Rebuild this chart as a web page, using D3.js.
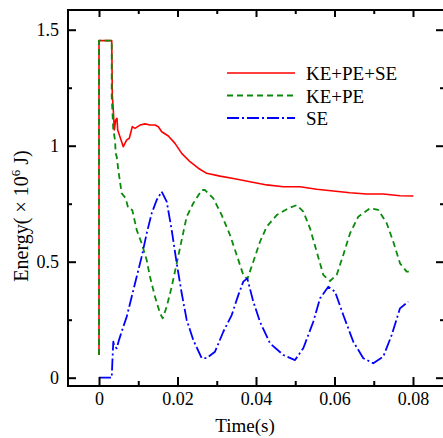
<!DOCTYPE html>
<html>
<head>
<meta charset="utf-8">
<script src="https://cdn.jsdelivr.net/npm/d3@7"></script>
<style>
  body { margin: 0; background: #fff; }
  text { font-family: "Liberation Serif", "DejaVu Serif", serif; fill: #000; }
</style>
</head>
<body>
<div id="chart"></div>
<script>
// KE+PE+SE (total energy)
var totalTime = [0, 0, 0.00324, 0.00339, 0.00364, 0.0039, 0.00425, 0.00459, 0.00476, 0.00619, 0.00706,
  0.00772, 0.00848, 0.00917, 0.01045, 0.01172, 0.01299, 0.01427, 0.01511, 0.01598, 0.01766, 0.01936,
  0.02107, 0.02318, 0.0253, 0.02744, 0.03083, 0.03422, 0.03847, 0.04273, 0.04696, 0.05121, 0.05547,
  0.05969, 0.06395, 0.0682, 0.07243, 0.07669, 0.08008];
var totalEnergy = [0.098, 1.453, 1.453, 1.219, 1.154, 1.068, 1.111, 1.118, 1.068, 0.996, 1.025,
  1.032, 1.082, 1.075, 1.089, 1.094, 1.089, 1.089, 1.082, 1.06, 1.042, 1.01,
  0.967, 0.931, 0.903, 0.881, 0.869, 0.859, 0.845, 0.831, 0.823, 0.823, 0.812,
  0.805, 0.797, 0.792, 0.792, 0.784, 0.783];

// KE+PE
var kpTime = [0, 0, 0.00324, 0.00324, 0.00364, 0.00408, 0.00425, 0.00451, 0.00492, 0.00578, 0.0068,
  0.00746, 0.00848, 0.0096, 0.01088, 0.01215, 0.01299, 0.01427, 0.01554, 0.01623, 0.01725, 0.01852,
  0.0198, 0.02107, 0.02234, 0.02403, 0.02617, 0.027, 0.02912, 0.03126, 0.03338, 0.03508, 0.03676,
  0.03778, 0.03931, 0.04102, 0.04273, 0.04527, 0.04823, 0.05037, 0.05205, 0.05376, 0.05547, 0.05715,
  0.05885, 0.06056, 0.06224, 0.06395, 0.06606, 0.06904, 0.07116, 0.0733, 0.07498, 0.07669, 0.07839,
  0.07992];
var kpEnergy = [0.098, 1.453, 1.453, 1.211, 1.068, 1.025, 0.967, 0.953, 0.895, 0.795, 0.773,
  0.73, 0.723, 0.637, 0.579, 0.507, 0.435, 0.349, 0.278, 0.256, 0.306, 0.392,
  0.493, 0.594, 0.694, 0.752, 0.809, 0.809, 0.773, 0.701, 0.615, 0.529, 0.443,
  0.425, 0.5, 0.586, 0.651, 0.701, 0.73, 0.744, 0.716, 0.644, 0.543, 0.443,
  0.417, 0.443, 0.529, 0.622, 0.694, 0.73, 0.723, 0.666, 0.586, 0.493, 0.457,
  0.457];

// SE
var seTime = [0, 0.00324, 0.00339, 0.00364, 0.0039, 0.00451, 0.0051, 0.00619, 0.00706, 0.00833,
  0.0096, 0.01088, 0.01215, 0.01343, 0.0147, 0.01597, 0.01725, 0.01852, 0.0198, 0.02107, 0.02234,
  0.02403, 0.02617, 0.02744, 0.02955, 0.03167, 0.03381, 0.03549, 0.03676, 0.03778, 0.03931, 0.04102,
  0.04357, 0.04696, 0.04994, 0.05205, 0.0546, 0.05631, 0.05842, 0.06013, 0.06224, 0.06479, 0.06734,
  0.06989, 0.07243, 0.07457, 0.07669, 0.0788];
var seEnergy = [0, 0, 0.062, 0.155, 0.134, 0.127, 0.163, 0.22, 0.263, 0.349,
  0.435, 0.522, 0.622, 0.709, 0.766, 0.802, 0.759, 0.637, 0.493, 0.364, 0.249,
  0.162, 0.084, 0.084, 0.112, 0.198, 0.27, 0.356, 0.414, 0.428, 0.328, 0.241,
  0.148, 0.098, 0.076, 0.127, 0.241, 0.342, 0.392, 0.371, 0.27, 0.155, 0.084,
  0.062, 0.091, 0.184, 0.299, 0.328];

var legendLabels = ["KE+PE+SE", "KE+PE", "SE"];
var xMajorTicks = [0, 0.02, 0.04, 0.06, 0.08];
var xMinorTicks = [0.01, 0.03, 0.05, 0.07];
var yMajorTicks = [0, 0.5, 1, 1.5];
var yMinorTicks = [0.25, 0.75, 1.25];

function zipSeries(ts, vs) {
  return ts.map((t, i) => ({ t: t, v: vs[i] }));
}

const width = 443;
const height = 438;
const margin = { top: 10, right: -1, bottom: 52, left: 68 };

const x = d3
  .scaleLinear()
  .domain([-0.0079, 0.0879])
  .range([margin.left, width - margin.right]);

const y = d3
  .scaleLinear()
  .domain([-0.0358, 1.585])
  .range([height - margin.bottom, margin.top]);

const svg = d3
  .select("div#chart")
  .append("svg")
  .attr("width", width)
  .attr("height", height);

const line = d3
  .line()
  .x((d) => x(d.t))
  .y((d) => y(d.v));

const series = [
  { data: zipSeries(totalTime, totalEnergy), color: "#ff0000", dash: null, w: 1.6 },
  { data: zipSeries(kpTime, kpEnergy), color: "#0a8a0a", dash: "6,4", w: 1.8 },
  { data: zipSeries(seTime, seEnergy), color: "#0000ff", dash: "12,3,2,3", w: 1.8 },
];

svg
  .append("g")
  .attr("class", "lines")
  .selectAll("path")
  .data(series)
  .join("path")
  .attr("fill", "none")
  .attr("stroke", (d) => d.color)
  .attr("stroke-width", (d) => d.w)
  .attr("stroke-dasharray", (d) => d.dash)
  .attr("stroke-linejoin", "round")
  .attr("d", (d) => line(d.data));

// ticks all point inward, major + minor
function styleAxis(g) {
  g.select(".domain").remove();
  g.selectAll(".tick line").attr("stroke", "#000").attr("stroke-width", 2);
  g.selectAll("text").style("font-size", "18px").style("font-family", "Liberation Serif");
}

const fmtX = (d) => (d === 0 ? "0" : d3.format(".2f")(d));
const fmtY = (d) => String(d);

svg.append("g")
  .attr("transform", `translate(0, ${height - margin.bottom})`)
  .call(d3.axisBottom(x).tickValues(xMajorTicks).tickSize(-9).tickPadding(6).tickFormat(fmtX))
  .call(styleAxis);
svg.append("g")
  .attr("transform", `translate(0, ${height - margin.bottom})`)
  .call(d3.axisBottom(x).tickValues(xMinorTicks).tickSize(-5).tickFormat(""))
  .call(styleAxis);
svg.append("g")
  .attr("transform", `translate(0, ${margin.top})`)
  .call(d3.axisTop(x).tickValues(xMajorTicks).tickSize(-7).tickFormat(""))
  .call(styleAxis);
svg.append("g")
  .attr("transform", `translate(0, ${margin.top})`)
  .call(d3.axisTop(x).tickValues(xMinorTicks).tickSize(-4).tickFormat(""))
  .call(styleAxis);

svg.append("g")
  .attr("transform", `translate(${margin.left}, 0)`)
  .call(d3.axisLeft(y).tickValues(yMajorTicks).tickSize(-8).tickPadding(9).tickFormat(fmtY))
  .call(styleAxis);
svg.append("g")
  .attr("transform", `translate(${margin.left}, 0)`)
  .call(d3.axisLeft(y).tickValues(yMinorTicks).tickSize(-4).tickFormat(""))
  .call(styleAxis);
svg.append("g")
  .attr("transform", `translate(${width - margin.right}, 0)`)
  .call(d3.axisRight(y).tickValues(yMajorTicks).tickSize(-8).tickFormat(""))
  .call(styleAxis);
svg.append("g")
  .attr("transform", `translate(${width - margin.right}, 0)`)
  .call(d3.axisRight(y).tickValues(yMinorTicks).tickSize(-4).tickFormat(""))
  .call(styleAxis);

// frame
svg
  .append("rect")
  .attr("x", margin.left)
  .attr("y", margin.top)
  .attr("width", width - margin.right - margin.left)
  .attr("height", height - margin.bottom - margin.top)
  .attr("fill", "none")
  .attr("stroke", "#000")
  .attr("stroke-width", 2);

// axis titles
svg
  .append("text")
  .attr("x", 245)
  .attr("y", 432)
  .attr("text-anchor", "middle")
  .style("font-size", "19px")
  .text("Time(s)");

const yTitle = svg
  .append("text")
  .attr("transform", "translate(28, 216) rotate(-90)")
  .attr("text-anchor", "middle")
  .style("font-size", "20px");
yTitle.append("tspan").text("Energy( × 10");
yTitle.append("tspan").attr("dy", -8).style("font-size", "13px").text("6");
yTitle.append("tspan").attr("dy", 8).text(" J)");

// legend
const legend = svg
  .append("g")
  .attr("class", "legend")
  .selectAll("g")
  .data(series)
  .join("g")
  .attr("transform", (d, i) => `translate(227, ${73 + i * 22.5})`);

legend
  .append("line")
  .attr("x1", 0)
  .attr("x2", 68)
  .attr("stroke", (d) => d.color)
  .attr("stroke-width", (d) => d.w)
  .attr("stroke-dasharray", (d) => d.dash);

legend
  .append("text")
  .attr("x", 79)
  .attr("y", 7)
  .style("font-size", "19px")
  .text((d, i) => legendLabels[i]);
</script>
</body>
</html>
